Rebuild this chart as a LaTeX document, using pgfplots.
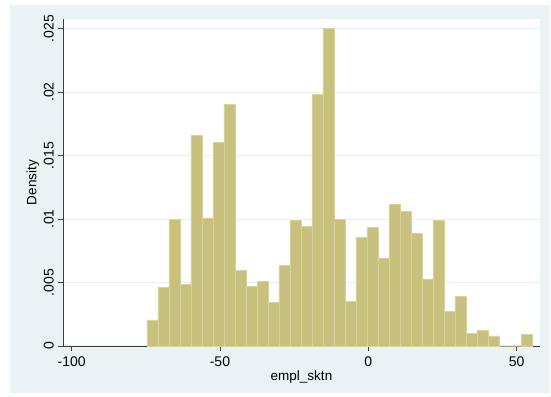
\documentclass[border=0pt]{standalone}
\usepackage{pgfplots}
\pgfplotsset{compat=1.18}
\usepackage{fontspec}
\setmainfont{Liberation Sans}
\definecolor{bgc}{RGB}{234,242,243}
\definecolor{barfill}{RGB}{200,192,125}
\definecolor{barline}{RGB}{216,210,156}
\definecolor{gridc}{RGB}{232,240,242}
\definecolor{axc}{RGB}{60,60,60}
\pgfplotstableread{
x y
-74.65 0.00205
-70.94 0.00462
-67.23 0.00996
-63.52 0.00483
-59.81 0.01656
-56.10 0.01008
-52.39 0.01601
-48.68 0.01903
-44.97 0.00598
-41.26 0.00470
-37.55 0.00510
-33.84 0.00341
-30.13 0.00635
-26.42 0.00987
-22.71 0.00940
-19.00 0.01979
-15.29 0.02502
-11.58 0.01000
-7.87 0.00354
-4.16 0.00853
-0.45 0.00932
3.26 0.00690
6.97 0.01113
10.68 0.01060
14.39 0.00884
18.10 0.00528
21.81 0.00990
25.52 0.00273
29.23 0.00391
32.94 0.00097
36.65 0.00120
40.36 0.00079
44.07 0
47.78 0
51.49 0.00092
55.20 0.00092
}\histdata
\begin{document}
\begin{tikzpicture}[font=\fontsize{14}{16}\selectfont]
\fill[white] (0pt,0pt) rectangle (551pt,396pt);
\fill[bgc] (10pt,3pt) rectangle (550pt,391pt);
\begin{axis}[
  at={(63pt,50pt)}, anchor=south west,
  scale only axis, width=477pt, height=327pt,
  xmin=-102.9, xmax=57.9, ymin=0, ymax=0.02575,
  axis background/.style={fill=white},
  axis lines*=left,
  axis line style={axc, line width=0.8pt, -},
  tick style={axc, line width=0.8pt},
  tick align=outside, major tick length=5pt,
  xtick={-100,-50,0,50}, xticklabels={-100,-50,0,50},
  ytick={0,0.005,0.01,0.015,0.02,0.025},
  yticklabels={0,.005,.01,.015,.02,.025},
  ticklabel style={font=\fontsize{14}{16}\selectfont},
  label style={font=\fontsize{13.5}{16}\selectfont},
  yticklabel style={rotate=90, anchor=south, inner sep=4pt},
  xticklabel style={inner sep=6pt},
  ymajorgrids, grid style={gridc, line width=1pt},
  xlabel={empl\_sktn}, ylabel={Density},
  xlabel style={at={(axis description cs:0.5,0)}, anchor=center, yshift=-31pt},
  ylabel style={at={(axis description cs:0,0.5)}, anchor=center, rotate=0, yshift=30pt},
  scaled y ticks=false,
  clip=false,
]
\addplot[ybar interval, fill=barfill, draw=barline, line width=0.6pt] table[x=x,y=y] {\histdata};
\end{axis}
\end{tikzpicture}
\end{document}
